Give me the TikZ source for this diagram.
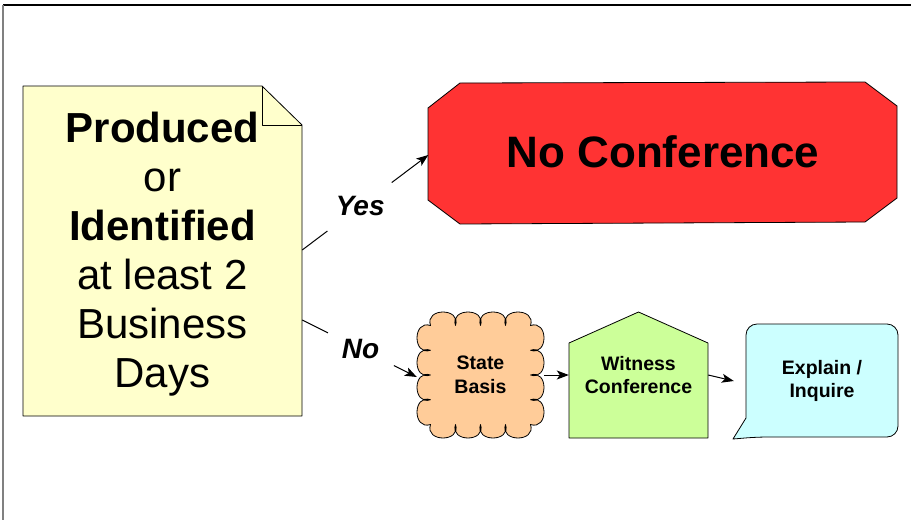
\documentclass[tikz,border=0pt]{standalone}
\usepackage{fontspec}
\setmainfont{Liberation Sans}
\usetikzlibrary{arrows.meta,calc}
\definecolor{notecol}{HTML}{FFFFCC}
\definecolor{redcol}{HTML}{FF3333}
\definecolor{peach}{HTML}{FFCC99}
\definecolor{limecol}{HTML}{CCFF99}
\definecolor{cyancol}{HTML}{CCFFFF}
\begin{document}
\begin{tikzpicture}[x=1pt,y=-1pt,line join=round,
  shapeline/.style={line width=0.8pt},
  conn/.style={line width=1pt},
  arr/.style={line width=1pt,-{Stealth[length=12pt,width=9pt,inset=3pt]}},
  lbl/.style={font=\fontsize{28}{32}\selectfont\bfseries\itshape},
  small/.style={font=\fontsize{19.5}{23.5}\selectfont\bfseries,align=center,inner sep=0pt}]
\useasboundingbox (0,0) rectangle (911,520);
% frame
\draw[line width=1.2pt] (3,5) -- (911,5);
\draw[line width=1.5pt,gray] (3,5) -- (3,520);

% note shape
\draw[shapeline,fill=notecol] (23,86) -- (262,86) -- (302,125) -- (302,416) -- (23,416) -- cycle;
\draw[shapeline] (262,86) -- (262,125) -- (302,125);
\node[align=center,font=\fontsize{42}{49}\selectfont,minimum width=279pt,minimum height=300pt,inner sep=0pt] (note) at (162.5,254.5)
  {\textbf{Produced}\\or\\\textbf{Identified}\\at least 2\\Business\\Days};

% octagon
\draw[shapeline,fill=redcol] (460,83) -- (865,82) -- (897,106) -- (897,198) -- (865,222) -- (460,224) -- (428,200) -- (428,108) -- cycle;
\node[font=\fontsize{44}{50}\selectfont\bfseries,minimum width=469pt,minimum height=141pt,inner sep=0pt] (nc) at (663,152) {No Conference};

% cloud
\draw[shapeline,fill=peach] (430.5,325.5)
  .. controls +(-6,-18) and +(6,-18) .. (455.5,325.5)
  .. controls +(-6,-18) and +(6,-18) .. (480.5,325.5)
  .. controls +(-6,-18) and +(6,-18) .. (505.5,325.5)
  .. controls +(-6,-18) and +(6,-18) .. (530.5,325.5)
  .. controls +(18,-6) and +(18,6) .. (530.5,350.25)
  .. controls +(18,-6) and +(18,6) .. (530.5,375)
  .. controls +(18,-6) and +(18,6) .. (530.5,399.75)
  .. controls +(18,-6) and +(18,6) .. (530.5,424.5)
  .. controls +(6,18) and +(-6,18) .. (505.5,424.5)
  .. controls +(6,18) and +(-6,18) .. (480.5,424.5)
  .. controls +(6,18) and +(-6,18) .. (455.5,424.5)
  .. controls +(6,18) and +(-6,18) .. (430.5,424.5)
  .. controls +(-18,6) and +(-18,-6) .. (430.5,399.75)
  .. controls +(-18,6) and +(-18,-6) .. (430.5,375)
  .. controls +(-18,6) and +(-18,-6) .. (430.5,350.25)
  .. controls +(-18,6) and +(-18,-6) .. (430.5,325.5)
  -- cycle;
\node[small,minimum width=127pt,minimum height=126pt] (sb) at (480.5,375) {State\\Basis};

% pentagon
\draw[shapeline,fill=limecol] (569,343) -- (638.5,312) -- (708,343) -- (708,438) -- (569,438) -- cycle;
\node[small,minimum width=139pt] (wc) at (638.5,375) {Witness\\Conference};

% callout
\draw[shapeline,fill=cyancol,rounded corners=11pt] (746,380) -- (746,324) -- (898,324) -- (898,437) -- (757,437) [sharp corners] -- (733,439) -- (746,418) -- cycle;
\node[small,minimum width=152pt] (ei) at (822,381) {Explain /\\Inquire};

% connectors
\coordinate (ya) at ($(note.east)+(0,-4.5)$);
\coordinate (yb) at ($(nc.west)+(0,3)$);
\draw[conn] (ya) -- ($(ya)!0.2!(yb)$);
\draw[arr] ($(ya)!0.71!(yb)$) -- (yb);
\node[lbl] (yes) at ($(ya)!0.46!(yb)$) {Yes};

\coordinate (na) at ($(note.east)+(0,65.5)$);
\coordinate (nb) at ($(sb.west)+(0,2)$);
\draw[conn] (na) -- ($(na)!0.225!(nb)$);
\draw[arr] ($(na)!0.8!(nb)$) -- (nb);
\node[lbl] (no) at ($(na)!0.51!(nb)$) {No};

\draw[arr] (sb.east) -- (wc.west);
\draw[arr] (wc.east) -- ($(ei.west)+(-12,0)$);
\end{tikzpicture}
\end{document}
